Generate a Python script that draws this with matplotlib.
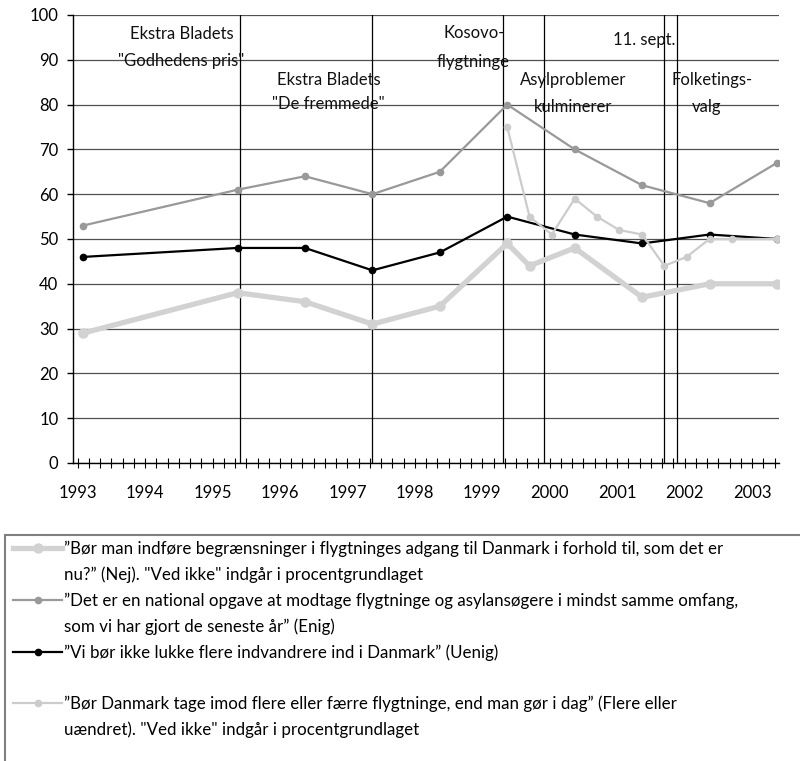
import matplotlib
matplotlib.use('Agg')
import matplotlib.pyplot as plt
from matplotlib.lines import Line2D
from matplotlib.patches import Rectangle
from matplotlib import font_manager
import numpy as np

avail = {f.name for f in font_manager.fontManager.ttflist}
FONT = 'Lato' if 'Lato' in avail else 'DejaVu Sans'
plt.rcParams['font.family'] = [FONT, 'DejaVu Sans']

# ---------------- data ----------------
year_ticks = [1993, 1994, 1995, 1996, 1997, 1998, 1999, 2000, 2001, 2002, 2003]
year_labels = [str(y) for y in year_ticks]

s1_x = [1993.08, 1995.37, 1996.37, 1997.37, 1998.37, 1999.37, 1999.70, 2000.37, 2001.37, 2002.37, 2003.37]
s1_y = [29, 38, 36, 31, 35, 49, 44, 48, 37, 40, 40]

s2_x = [1993.08, 1995.37, 1996.37, 1997.37, 1998.37, 1999.37, 2000.37, 2001.37, 2002.37, 2003.37]
s2_y = [53, 61, 64, 60, 65, 80, 70, 62, 58, 67]

s3_x = [1993.08, 1995.37, 1996.37, 1997.37, 1998.37, 1999.37, 2000.37, 2001.37, 2002.37, 2003.37]
s3_y = [46, 48, 48, 43, 47, 55, 51, 49, 51, 50]

s4_x = [1999.37, 1999.70, 2000.03, 2000.37, 2000.70, 2001.03, 2001.37, 2001.70, 2002.03, 2002.37, 2002.70, 2003.37]
s4_y = [75, 55, 51, 59, 55, 52, 51, 44, 46, 50, 50, 50]

event_x = [1995.40, 1997.36, 1999.31, 1999.91, 2001.69, 2001.89]

legend_labels = [
    ['”Bør man indføre begrænsninger i flygtninges adgang til Danmark i forhold til, som det er',
     'nu?” (Nej). "Ved ikke" indgår i procentgrundlaget'],
    ['”Det er en national opgave at modtage flygtninge og asylansøgere i mindst samme omfang,',
     'som vi har gjort de seneste år” (Enig)'],
    ['”Vi bør ikke lukke flere indvandrere ind i Danmark” (Uenig)', ' '],
    ['”Bør Danmark tage imod flere eller færre flygtninge, end man gør i dag” (Flere eller',
     'uændret). "Ved ikke" indgår i procentgrundlaget'],
]

# annotation texts (text, x, y)
annotations = [
    ('Ekstra Bladets', 1994.54, 95.8),
    ('"Godhedens pris"', 1994.54, 89.7),
    ('Ekstra Bladets', 1996.72, 85.5),
    ('"De fremmede"', 1996.72, 80.1),
    ('Kosovo-', 1998.88, 96.0),
    ('flygtninge', 1998.87, 89.5),
    ('11. sept.', 2001.40, 94.4),
    ('Asylproblemer', 2000.34, 85.5),
    ('kulminerer', 2000.34, 79.5),
    ('Folketings-', 2002.41, 85.5),
    ('valg', 2002.32, 79.5),
]

# ---------------- styles ----------------
C1, C2, C3, C4 = '#d2d2d2', '#999999', '#000000', '#cccccc'
st1 = dict(color=C1, lw=3.8, marker='o', ms=6.5, mfc=C1, mec=C1)
st2 = dict(color=C2, lw=1.6, marker='o', ms=4.5, mfc=C2, mec=C2)
st3 = dict(color=C3, lw=1.6, marker='o', ms=4.5, mfc=C3, mec=C3)
st4 = dict(color=C4, lw=1.6, marker='o', ms=4.5, mfc=C4, mec=C4)

fig = plt.figure(figsize=(8, 7.61), dpi=100)
ax = fig.add_axes([0.09125, 0.3916, 0.8825, 0.5887])

ax.set_xlim(1992.93, 2003.40)
ax.set_ylim(0, 100)

ax.yaxis.grid(True, color='#505050', lw=0.9)
ax.set_axisbelow(True)
for ex in event_x:
    ax.axvline(ex, color='#000000', lw=0.9, zorder=1.5)

ax.plot(s1_x, s1_y, zorder=3, **st1)
ax.plot(s2_x, s2_y, zorder=3.1, **st2)
ax.plot(s3_x, s3_y, zorder=3.2, **st3)
ax.plot(s4_x, s4_y, zorder=3.3, **st4)

for t, x, y in annotations:
    ax.text(x, y, t, ha='center', va='center', fontsize=12, color='#111111', zorder=4)

for s in ['top', 'right']:
    ax.spines[s].set_visible(False)
for s in ['left', 'bottom']:
    ax.spines[s].set_color('black')
    ax.spines[s].set_linewidth(1.0)

ax.set_yticks(range(0, 101, 10))
ax.tick_params(axis='y', direction='out', length=4.5, width=1, pad=6, labelsize=12)
ax.set_xticks(year_ticks)
ax.set_xticklabels(year_labels)
ax.set_xticks(np.arange(1993, 2003.4, 1/6), minor=True)
ax.tick_params(axis='x', which='both', direction='inout', length=7, width=0.8, pad=12, labelsize=12)

# ---------------- legend ----------------
fig.canvas.draw()
renderer = fig.canvas.get_renderer()
probe = fig.text(0, 0, legend_labels[0][0], fontsize=11)
w = probe.get_window_extent(renderer).width
probe.remove()
fs = 11 * 657.0 / w
fs_px = fs * 100 / 72.0

blank = Line2D([], [], linestyle='none', marker=None, alpha=0)
handles = [
    Line2D([], [], **st1), blank,
    Line2D([], [], **st2), blank,
    Line2D([], [], **st3), blank,
    Line2D([], [], **st4), blank,
]
labels = [l for pair in legend_labels for l in pair]

fig.legend(handles, labels, loc='upper left',
           bbox_to_anchor=(13 / 800, 1 - 541 / 761),
           frameon=False, fontsize=fs,
           handlelength=49 / fs_px, handletextpad=2 / fs_px,
           labelspacing=0.55, borderpad=0, borderaxespad=0)

fig.patches.append(Rectangle((5 / 800, -0.05), 1.2, (761 - 535) / 761 + 0.05,
                             transform=fig.transFigure, fill=False,
                             edgecolor='#808080', lw=1.5))

fig.savefig('out.png', dpi=100)
